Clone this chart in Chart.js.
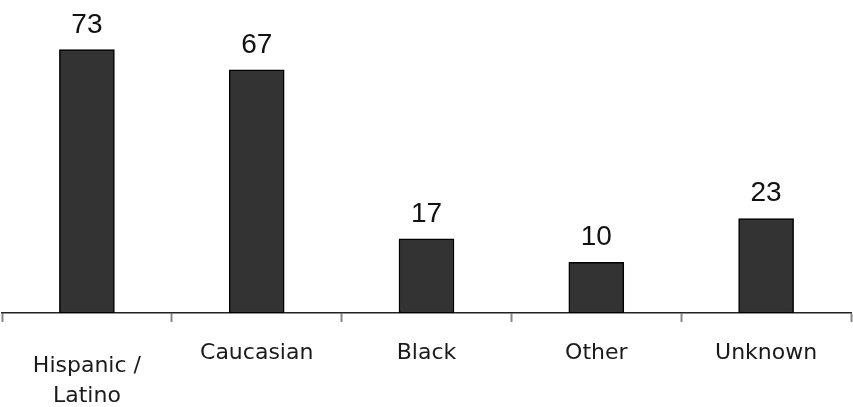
<!DOCTYPE html>
<html>
<head>
<meta charset="utf-8">
<script src="https://cdn.jsdelivr.net/npm/chart.js@4/dist/chart.umd.min.js"></script>
<style>
  html, body { margin: 0; padding: 0; background: #ffffff; }
  canvas { display: block; }
</style>
</head>
<body>
<canvas id="c" width="853" height="407"></canvas>
<script>
// ---- data ----
const categories = [['Hispanic /', 'Latino'], 'Caucasian', 'Black', 'Other', 'Unknown'];
const counts = [73, 67, 17, 10, 23];

const valueLabels = {
  id: 'valueLabels',
  afterDatasetsDraw(chart) {
    const ctx = chart.ctx;
    const meta = chart.getDatasetMeta(0);
    ctx.save();
    ctx.font = '28px "Liberation Sans", Arial, sans-serif';
    ctx.fillStyle = '#111111';
    ctx.textAlign = 'center';
    ctx.textBaseline = 'alphabetic';
    meta.data.forEach((bar, i) => {
      ctx.fillText(String(counts[i]), bar.x, bar.y - 17);
    });
    ctx.restore();
  }
};

new Chart(document.getElementById('c'), {
  type: 'bar',
  data: {
    labels: categories,
    datasets: [{
      data: counts,
      base: -5,
      backgroundColor: '#333333',
      borderColor: '#000000',
      borderWidth: 1.5,
      borderSkipped: false,
      barThickness: 55
    }]
  },
  options: {
    responsive: false,
    animation: false,
    layout: { padding: { left: 2, right: 2, top: 0, bottom: 0 } },
    plugins: {
      legend: { display: false },
      tooltip: { enabled: false }
    },
    scales: {
      x: {
        afterFit(scale) { scale.height = 94; },
        grid: {
          display: true,
          drawOnChartArea: false,
          drawTicks: true,
          tickLength: 9,
          tickColor: '#888888',
          tickWidth: 2,
          offset: true
        },
        border: { display: true, color: '#222222', width: 1.5 },
        ticks: {
          color: '#1a1a1a',
          padding: 29,
          maxRotation: 0,
          autoSkip: false,
          font: (ctx) => ({
            family: '"DejaVu Sans", sans-serif',
            size: 22,
            lineHeight: (ctx.index === 0) ? '30px' : '5px'
          })
        }
      },
      y: {
        display: false,
        min: -5,
        max: 87.7
      }
    }
  },
  plugins: [valueLabels]
});
</script>
</body>
</html>
